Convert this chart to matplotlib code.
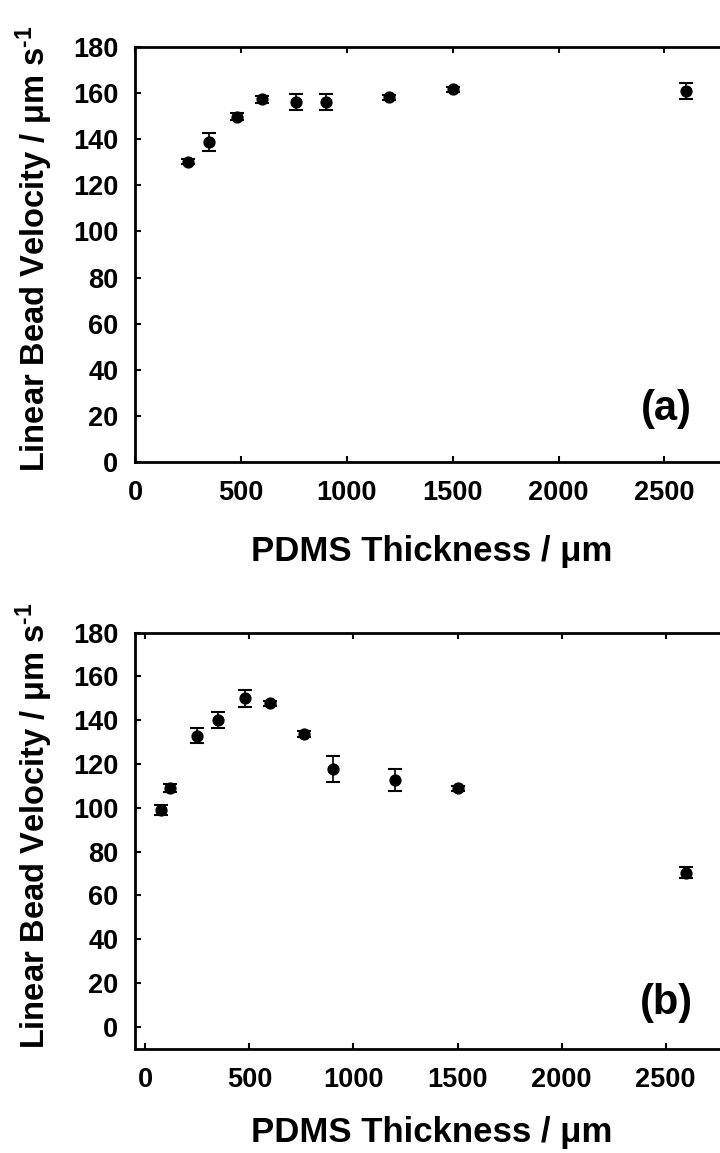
import matplotlib
matplotlib.use("Agg")
import matplotlib.pyplot as plt

# panel (a)
thick_a = [250, 350, 480, 600, 760, 900, 1200, 1500, 2600]
vel_a = [130.3, 138.8, 149.7, 157.4, 156.1, 156.1, 158.2, 161.6, 161.0]
err_a = [1.2, 4.0, 1.5, 1.5, 3.5, 3.5, 1.0, 1.0, 3.5]

# panel (b)
thick_b = [75, 120, 250, 350, 480, 600, 760, 900, 1200, 1500, 2600]
vel_b = [98.9, 108.9, 132.9, 140.0, 149.9, 147.6, 133.7, 117.6, 112.6, 108.8, 70.3]
err_b = [2.3, 1.8, 3.5, 3.5, 4.0, 1.0, 1.2, 6.0, 5.0, 1.0, 2.5]

xticks = [0, 500, 1000, 1500, 2000, 2500]
yticks = list(range(0, 181, 20))

plt.rcParams['font.family'] = ['Liberation Sans', 'DejaVu Sans']
plt.rcParams['font.weight'] = 'bold'
plt.rcParams['mathtext.fontset'] = 'custom'
plt.rcParams['mathtext.rm'] = 'Liberation Sans:bold'
plt.rcParams['mathtext.it'] = 'Liberation Sans:bold'
plt.rcParams['mathtext.bf'] = 'Liberation Sans:bold'
plt.rcParams['mathtext.default'] = 'rm'

fig = plt.figure(figsize=(7.2, 11.53), dpi=100)
ax_a = fig.add_axes([0.1875, 0.5993, 0.8236, 0.3599])
ax_b = fig.add_axes([0.1875, 0.0905, 0.8236, 0.3609])


def style_axis(ax, x, y, err, xlim, ylim, tag, tag_y, xl_y, yl_y):
    ax.errorbar(x, y, yerr=err, fmt='o', color='black', markersize=7.8,
                elinewidth=1.2, capsize=4.8, capthick=1.5, ecolor='black')
    ax.set_xlim(*xlim)
    ax.set_ylim(*ylim)
    ax.set_xticks(xticks)
    ax.set_yticks(yticks)
    for sp in ax.spines.values():
        sp.set_linewidth(2)
    ax.tick_params(direction='in', length=4, width=1.5, top=True, right=True,
                   labelsize=19.5)
    ax.tick_params(axis='x', pad=13)
    ax.tick_params(axis='y', pad=12)
    for lab in ax.get_xticklabels() + ax.get_yticklabels():
        lab.set_fontweight('bold')
    ax.set_xlabel('PDMS Thickness / μm', fontsize=25, fontweight='bold')
    ax.set_ylabel('Linear Bead Velocity / μm s$^{\u20101}$', fontsize=23.5,
                  fontweight='bold')
    ax.xaxis.set_label_coords(0.5, xl_y)
    ax.yaxis.set_label_coords(-0.135, yl_y)
    ax.text(0.896, tag_y, tag, transform=ax.transAxes, fontsize=30,
            fontweight='bold', ha='center', va='center')


style_axis(ax_a, thick_a, vel_a, err_a, (0, 2800), (0, 180), '(a)', 0.128, -0.176, 0.513)
style_axis(ax_b, thick_b, vel_b, err_b, (-50, 2800), (-10, 180), '(b)', 0.11, -0.163, 0.535)

fig.savefig('out.png', dpi=100)
